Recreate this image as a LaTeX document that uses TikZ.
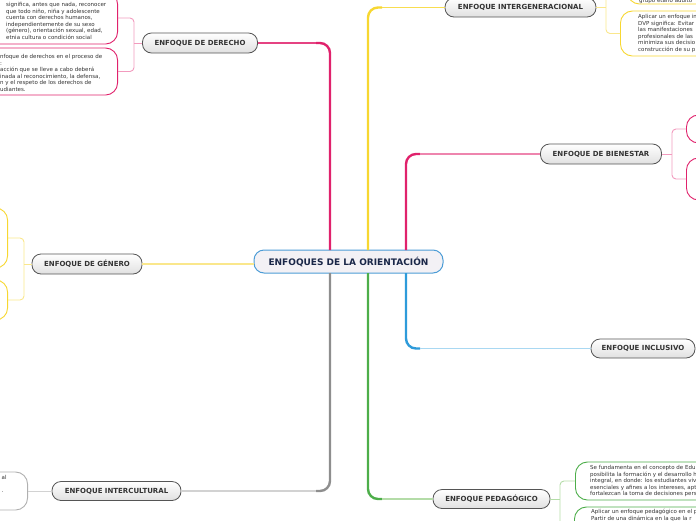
\documentclass[tikz,border=0pt]{standalone}
\usepackage{fontspec}
\setmainfont{DejaVu Sans}
\usetikzlibrary{calc}
\definecolor{pinkM}{HTML}{E0226C}
\definecolor{pinkL}{HTML}{F29BBE}
\definecolor{yelM}{HTML}{F7D731}
\definecolor{yelL}{HTML}{FAE78C}
\definecolor{greyM}{HTML}{8E8E8E}
\definecolor{greyL}{HTML}{D2D2D2}
\definecolor{grnM}{HTML}{4DAE4A}
\definecolor{grnL}{HTML}{B4DCA8}
\definecolor{bluM}{HTML}{2E9BDA}
\definecolor{bluL}{HTML}{A9D8F2}
\definecolor{cBord}{HTML}{4C9CD6}
\definecolor{cFill}{HTML}{F3F1F5}
\definecolor{cText}{HTML}{1A2748}
\definecolor{tText}{HTML}{333333}
\definecolor{nBord}{HTML}{555555}
\tikzset{
  topic/.style={draw=nBord, line width=0.8pt, rounded corners=9pt, top color=white, bottom color=black!12,
    minimum height=19pt, inner sep=0pt, font=\bfseries\fontsize{7}{8}\selectfont, text=tText},
  central/.style={draw=cBord, line width=1pt, rounded corners=10pt, fill=cFill, inner sep=0pt,
    font=\bfseries\fontsize{9}{10}\selectfont, text=cText},
  leaf/.style={fill=white, line width=0.9pt, rounded corners=12pt, inner sep=0pt, minimum width=150pt},
  btxt/.style={font=\fontsize{5.5}{6.5}\selectfont, align=left, inner sep=0pt, anchor=north west, text=tText},
  mainbr/.style={line width=2.4pt, rounded corners=10pt},
  subbr/.style={line width=1.5pt},
  brk/.style={line width=0.9pt, rounded corners=4pt}
}
\begin{document}
\begin{tikzpicture}[x=1pt,y=-1pt]
\useasboundingbox (0,0) rectangle (696,520);

% topic nodes
\node[central, minimum width=189pt, minimum height=23pt] (c) at (348.5,261.5) {ENFOQUES DE LA ORIENTACIÓN};
\node[topic, minimum width=115pt, minimum height=20pt] (der) at (200,43) {ENFOQUE DE DERECHO};
\node[topic, minimum width=151pt] (igen) at (520.5,7.5) {ENFOQUE INTERGENERACIONAL};
\node[topic, minimum width=121pt, minimum height=20pt] (bien) at (601,154) {ENFOQUE DE BIENESTAR};
\node[topic, minimum width=104pt] (inc) at (643,348.5) {ENFOQUE INCLUSIVO};
\node[topic, minimum width=117pt] (ped) at (491.5,499) {ENFOQUE PEDAGÓGICO};
\node[topic, minimum width=129pt] (intc) at (116.5,491) {ENFOQUE INTERCULTURAL};
\node[topic, minimum width=110pt, minimum height=20pt] (gen) at (87,264) {ENFOQUE DE GÉNERO};

% branch start points on the central node
\coordinate (t1) at (330,250);
\coordinate (t2) at (368,250);
\coordinate (t3) at (406,250);
\coordinate (b1) at (330,273);
\coordinate (b2) at (368,273);
\coordinate (b3) at (406,273);
\coordinate (kDer) at (316,43);
\coordinate (kIgen) at (382,7.5);
\coordinate (kBien) at (420,154);
\coordinate (kInc) at (420,348.5);
\coordinate (kPed) at (382,499);
\coordinate (kIntc) at (316,491);

\draw[mainbr, pinkM] (t1) |- (kDer);
\draw[subbr, pinkM!85] (kDer) -- (der.east);
\draw[mainbr, yelM] (t2) |- (kIgen);
\draw[subbr, yelM!85] (kIgen) -- (igen.west);
\draw[mainbr, pinkM] (t3) |- (kBien);
\draw[subbr, pinkM!55] (kBien) -- (bien.west);
\draw[mainbr, bluM] (b3) |- (kInc);
\draw[subbr, bluL] (kInc) -- (inc.west);
\draw[mainbr, grnM] (b2) |- (kPed);
\draw[subbr, grnL] (kPed) -- (ped.west);
\draw[mainbr, greyM] (b1) |- (kIntc);
\draw[subbr, greyL] (kIntc) -- (intc.east);
\draw[subbr, yelL] (c.west |- gen.east) -- (gen.east);

% ---- DERECHO leaves
\node[leaf, draw=pinkM, minimum height=52pt, anchor=east] (d1) at (118,18) {};
\node[leaf, draw=pinkM, minimum height=47pt, anchor=east] (d2) at (118,71.5) {};
\node[btxt] (d1t) at (6,2.3) {significa, antes que nada, reconocer\\que todo niño, niña y adolescente\\cuenta con derechos humanos,\\independientemente de su sexo\\(género), orientación sexual, edad,\\etnia cultura o condición social};
\node[btxt] (d2t) at (0,54.3) {nfoque de derechos en el proceso de\\:\\acción que se lleve a cabo deberá\\inada al reconocimiento, la defensa,\\n y el respeto de los derechos de\\udiantes.};
\coordinate (dj) at (134,43);
\draw[brk, pinkL] (der.west) -- (dj);
\draw[brk, pinkL] (d1.east) -| (dj) |- (d2.east);

% ---- GENERO leaves
\node[leaf, draw=yelM, minimum height=60pt, anchor=east] (g1) at (8,238) {};
\node[leaf, draw=yelM, minimum height=40pt, anchor=east] (g2) at (8,300) {};
\coordinate (gj) at (24,264);
\draw[brk, yelL] (gen.west) -- (gj);
\draw[brk, yelL] (g1.east) -| (gj) |- (g2.east);

% ---- INTERCULTURAL leaf
\node[leaf, draw=greyM!70, minimum height=38pt, anchor=east] (i1) at (28,491) {};
\node[btxt] (i1t) at (1.5,475.3) {al\\[6.5pt].};
\draw[brk, greyL] (intc.west) -- (i1.east);

% ---- INTERGENERACIONAL leaves
\node[leaf, draw=yelM, minimum height=38pt, anchor=west] (y1) at (627,-15) {};
\node[leaf, draw=yelM, minimum height=45pt, anchor=west] (y2) at (620,33.5) {};
\node[btxt] (y1t) at (639,-1.7) {grupo etario adulto};
\node[btxt] (y2t) at (638,14.3) {Aplicar un enfoque in\\DVP significa: Evitar\\las manifestaciones\\profesionales de las\\minimiza sus decisio\\construcción de su p};
\coordinate (yj) at (606,7.5);
\draw[brk, yelL] (igen.east) -- (yj);
\draw[brk, yelL] (y1.west) -| (yj) |- (y2.west);

% ---- BIENESTAR leaves
\node[leaf, draw=pinkM, minimum height=28pt, anchor=west] (w1) at (686,129) {};
\node[leaf, draw=pinkM, minimum height=42pt, anchor=west] (w2) at (686,179) {};
\coordinate (wj) at (672,154);
\draw[brk, pinkL] (bien.east) -- (wj);
\draw[brk, pinkL] (w1.west) -| (wj) |- (w2.west);

% ---- PEDAGOGICO leaves
\node[leaf, draw=grnM, minimum height=38pt, anchor=west] (p1) at (575,481) {};
\node[leaf, draw=grnM, minimum height=46pt, anchor=west] (p2) at (574,530) {};
\node[btxt] (p1t) at (590,465.3) {Se fundamenta en el concepto de Edu\\posibilita la formación y el desarrollo h\\integral, en donde: los estudiantes viv\\esenciales y afines a los intereses, apt\\fortalezcan la toma de decisiones pers};
\node[btxt] (p2t) at (591,509) {Aplicar un enfoque pedagógico en el p\\Partir de una dinámica en la que la r};
\coordinate (pj) at (560,499);
\draw[brk, grnL] (ped.east) -- (pj);
\draw[brk, grnL] (p1.west) -| (pj) |- (p2.west);
\end{tikzpicture}
\end{document}
